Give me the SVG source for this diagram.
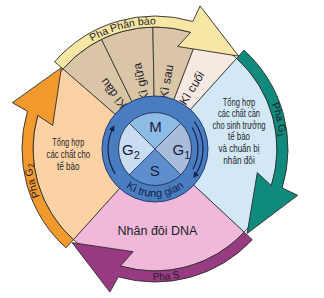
<svg xmlns="http://www.w3.org/2000/svg" width="324" height="298" viewBox="0 0 324 298">
<style>
.s{stroke:#2b2b2b;stroke-width:0.8;stroke-linejoin:round}
.b{stroke:#2b2b2b;stroke-width:0.9;stroke-linejoin:miter}
.tan{fill:#dac5a7}
text{font-family:"Liberation Sans",Arial,sans-serif;fill:#1e1e2a}
.k{font-size:12px}
.t{font-size:10px}
.p{font-size:10.5px}
.q{font-size:15px;fill:#17203f}
.ra{fill:none;stroke:#13204a;stroke-width:1.2}
</style>
<defs>
<path id="pPB" d="M47.18,86.75 A124.5,124.5 0 0 1 217.25,41.18"/>
<path id="pG1" d="M251.14,69.61 A125.5,125.5 0 0 1 277.28,177.23"/>
<path id="pS" d="M62.37,241.63 A131,131 0 0 0 262.31,224.14"/>
<path id="pG2" d="M59.63,229.03 A124.5,124.5 0 0 1 32.79,125.25"/>
<path id="pKTG" d="M115.68,176.53 A48,48 0 0 0 194.32,176.53"/>
<marker id="ah" viewBox="0 0 10 10" refX="7" refY="5" markerWidth="5" markerHeight="5" orient="auto"><path d="M0,0 L10,5 L0,10 Z" fill="#13204a"/></marker>
</defs>

<g id="pha-phan-bao">
<path class="s tan" d="M155,149 L62.93,68.96 A122,122 0 0 1 101.52,39.35 Z"/>
<path class="s tan" d="M155,149 L101.52,39.35 A122,122 0 0 1 152.87,27.02 Z"/>
<path class="s tan" d="M155,149 L152.87,27.02 A122,122 0 0 1 198.72,35.1 Z"/>
<path class="s" fill="#f6e9e1" d="M155,149 L198.72,35.1 A122,122 0 0 1 236.63,58.34 Z"/>
<path class="b" fill="#f8e6a5" d="M54.62,61.74 A133,133 0 0 1 192.77,21.48 L200.11,5.94 L238.64,56.11 L177.72,46.49 L190.67,32.33 A122,122 0 0 0 62.93,68.96 Z"/>
<text class="p"><textPath href="#pPB" startOffset="50%" text-anchor="middle">Pha Phân bào</textPath></text>
<text class="k" transform="translate(113.5,93.5) rotate(-127.5)" text-anchor="middle" dominant-baseline="central">Kì đầu</text>
<text class="k" transform="translate(141,82) rotate(-102)" text-anchor="middle" dominant-baseline="central">Kì giữa</text>
<text class="k" transform="translate(166.5,81.5) rotate(-80)" text-anchor="middle" dominant-baseline="central">Kì sau</text>
<text class="k" transform="translate(192,88) rotate(-58.5)" text-anchor="middle" dominant-baseline="central">Kì cuối</text>
</g>

<g id="pha-g1">
<path class="s" fill="#d3e8f6" d="M155,149 L236.63,58.34 A122,122 0 0 1 244.23,232.2 Z"/>
<path class="b" fill="#108a7c" d="M243.99,50.17 A133,133 0 0 1 282.19,187.89 L297.66,195.35 L247.16,233.45 L257.31,172.62 L271.35,185.69 A122,122 0 0 0 236.63,58.34 Z"/>
<text class="p"><textPath href="#pG1" startOffset="50%" text-anchor="middle">Pha G<tspan font-size="8" dy="2">1</tspan></textPath></text>
<g class="t" text-anchor="middle">
<text x="239" y="105.5" textLength="32.5" lengthAdjust="spacingAndGlyphs">Tổng hợp</text>
<text x="239" y="117.1" textLength="42" lengthAdjust="spacingAndGlyphs">các chất cần</text>
<text x="239" y="128.7" textLength="53" lengthAdjust="spacingAndGlyphs">cho sinh trưởng</text>
<text x="239" y="140.3" textLength="22" lengthAdjust="spacingAndGlyphs">tế bào</text>
<text x="239" y="151.9" textLength="41" lengthAdjust="spacingAndGlyphs">và chuẩn bị</text>
<text x="239" y="163.5" textLength="31.5" lengthAdjust="spacingAndGlyphs">nhân đôi</text>
</g>
</g>

<g id="pha-s">
<path class="s" fill="#f0b9d9" d="M155,149 L244.23,232.2 A122,122 0 0 1 73.37,239.66 Z"/>
<path class="b" fill="#983b83" d="M252.27,239.71 A133,133 0 0 1 118.34,276.85 L109.89,292.06 L72.17,242.63 L133.17,251.7 L120.35,265.97 A122,122 0 0 0 244.23,232.2 Z"/>
<text class="t"><textPath href="#pS" startOffset="50%" text-anchor="middle">Pha S</textPath></text>
<text x="157.5" y="235" font-size="12.5" text-anchor="middle">Nhân đôi DNA</text>
</g>

<g id="pha-g2">
<path class="s" fill="#fcd2a5" d="M155,149 L73.37,239.66 A122,122 0 0 1 62.93,68.96 Z"/>
<path class="b" fill="#f39a2e" d="M66.01,247.83 A133,133 0 0 1 27.48,111.23 L12.34,102.65 L61.42,67.64 L52.69,125.38 L37.72,115.38 A122,122 0 0 0 73.37,239.66 Z"/>
<text class="p"><textPath href="#pG2" startOffset="50%" text-anchor="middle">Pha G<tspan font-size="8" dy="2">2</tspan></textPath></text>
<text class="t" x="68.3" y="146" text-anchor="middle" textLength="32" lengthAdjust="spacingAndGlyphs">Tổng hợp</text>
<text class="t" x="68.3" y="157.8" text-anchor="middle" textLength="43.5" lengthAdjust="spacingAndGlyphs">các chất cho</text>
<text class="t" x="68.3" y="169.5" text-anchor="middle" textLength="22.5" lengthAdjust="spacingAndGlyphs">tế bào</text>
</g>

<g id="ki-trung-gian">
<circle cx="155" cy="149" r="53" fill="#4a7dc0" stroke="#1f3b72" stroke-width="1"/>
<text font-size="11" style="fill:#13204a"><textPath href="#pKTG" startOffset="50%" text-anchor="middle">Kì trung gian</textPath></text>
</g>

<g id="connectors">
<path class="ra" d="M115.14,173.91 A47,47 0 0 1 113.5,126.93" marker-end="url(#ah)"/>
<path class="ra" d="M194.32,121.47 A48,48 0 0 1 194.32,176.53" marker-end="url(#ah)"/>
<path class="ra" d="M192.24,127.5 A43,43 0 0 1 192.97,169.19"/>
</g>

<g id="cycle-core">
<path d="M155,149 L129.19,123.19 A36.5,36.5 0 0 1 180.81,123.19 Z" fill="#8dbbe4"/>
<path d="M155,149 L180.81,123.19 A36.5,36.5 0 0 1 180.81,174.81 Z" fill="#a7bddb"/>
<path d="M155,149 L180.81,174.81 A36.5,36.5 0 0 1 129.19,174.81 Z" fill="#5d8fcf"/>
<path d="M155,149 L129.19,174.81 A36.5,36.5 0 0 1 129.19,123.19 Z" fill="#c9ddf1"/>
<path d="M129.19,123.19 L180.81,174.81 M180.81,123.19 L129.19,174.81" stroke="#1f2f55" stroke-width="0.8"/>
<circle cx="155" cy="149" r="36.5" fill="none" stroke="#1f2f55" stroke-width="0.9"/>
<text class="q" x="155.5" y="131.7" text-anchor="middle">M</text>
<text class="q" x="122" y="155">G<tspan font-size="11" dy="4">2</tspan></text>
<text class="q" x="172.5" y="155">G<tspan font-size="11" dy="4">1</tspan></text>
<text class="q" x="154.7" y="176" text-anchor="middle">S</text>
</g>
</svg>
